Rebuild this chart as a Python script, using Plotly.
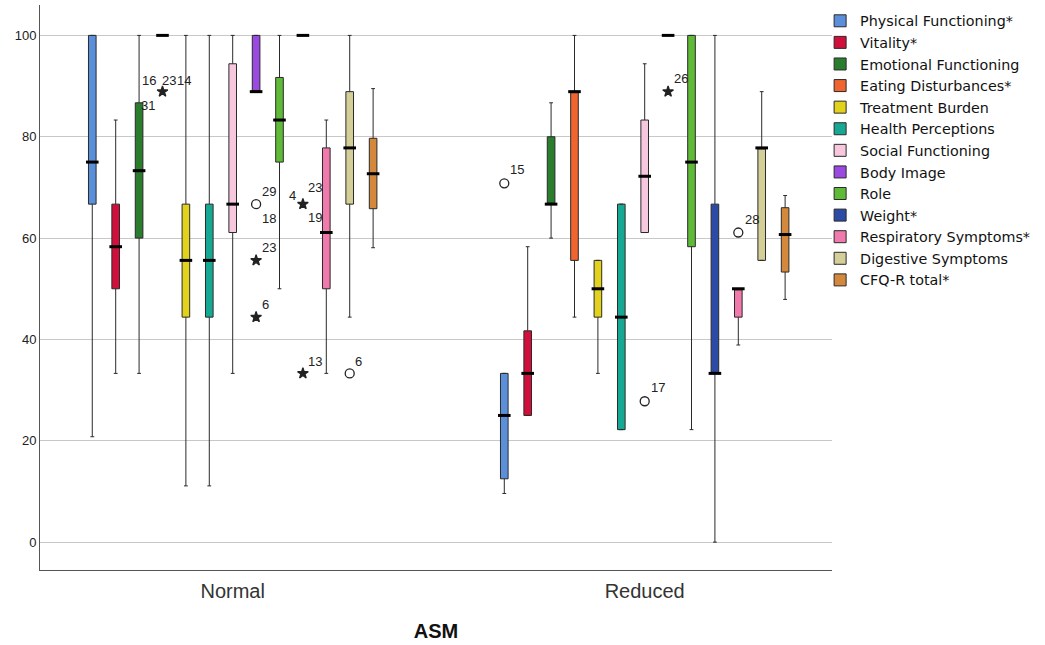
import plotly.graph_objects as go

# ---- data -------------------------------------------------------------
GROUPS = ["Normal", "Reduced"]

SCALES = [
    "Physical Functioning*", "Vitality*", "Emotional Functioning",
    "Eating Disturbances*", "Treatment Burden", "Health Perceptions",
    "Social Functioning", "Body Image", "Role", "Weight*",
    "Respiratory Symptoms*", "Digestive Symptoms", "CFQ-R total*",
]

# box statistics per scale: [Normal, Reduced]
LOWER = [[20.8, 9.6], [33.3, 25.0], [33.3, 60.0], [100, 44.4], [11.1, 33.3],
         [11.1, 22.2], [33.3, 61.1], [88.9, 100], [50.0, 22.2], [100, 0.0],
         [33.3, 38.9], [44.4, 55.6], [58.1, 47.9]]
Q1 = [[66.7, 12.5], [50.0, 25.0], [60.0, 66.7], [100, 55.6], [44.4, 44.4],
      [44.4, 22.2], [61.1, 61.1], [88.9, 100], [75.0, 58.3], [100, 33.3],
      [50.0, 44.4], [66.7, 55.6], [65.8, 53.3]]
MEDIAN = [[75.0, 25.0], [58.3, 33.3], [73.3, 66.7], [100, 88.9], [55.6, 50.0],
          [55.6, 44.4], [66.7, 72.2], [88.9, 100], [83.3, 75.0], [100, 33.3],
          [61.1, 50.0], [77.8, 77.8], [72.7, 60.7]]
Q3 = [[100, 33.3], [66.7, 41.7], [86.7, 80.0], [100, 88.9], [66.7, 55.6],
      [66.7, 66.7], [94.4, 83.3], [100, 100], [91.7, 100], [100, 66.7],
      [77.8, 50.0], [88.9, 77.8], [79.7, 66.0]]
UPPER = [[100, 33.3], [83.3, 58.3], [100, 86.7], [100, 100], [100, 55.6],
         [100, 66.7], [100, 94.4], [100, 100], [100, 100], [100, 100],
         [83.3, 50.0], [100, 88.9], [89.5, 68.4]]

# outlying cases (circle = outlier, star = extreme) with their case numbers
OUT_GROUP = [0, 0, 0, 0, 0, 0, 0, 1, 1, 1, 1]
OUT_SCALE = [3, 7, 7, 7, 9, 9, 11, 0, 6, 7, 10]
OUT_VALUE = [88.9, 66.7, 55.6, 44.4, 66.7, 33.3, 33.3, 70.8, 27.8, 88.9, 61.1]
OUT_KIND = ["extreme", "outlier", "extreme", "extreme", "extreme", "extreme",
            "outlier", "outlier", "outlier", "extreme", "outlier"]
OUT_CASES = [["16", "23", "14", "31"], ["29", "18"], ["23"], ["6"],
             ["4", "23", "19"], ["13"], ["6"], ["15"], ["17"], ["26"], ["28"]]

# ---- style ------------------------------------------------------------
COLORS = ["#5b8fd9", "#d0103a", "#2b7d2e", "#f0642d", "#e2d21c", "#17a894",
          "#f7c7de", "#9a4ae0", "#5fba37", "#2d4ba6", "#f07aab", "#d4cf98",
          "#d4883c"]

# pixel offsets of case-number labels around their marker
LABEL_OFFSETS = [[(-13, 11), (7, 11), (22, 11), (-14, -14)], [(13, 13), (13, -14)],
                 [(13, 13)], [(9, 13)], [(-10, 9), (12, 17), (12, -13)],
                 [(12, 12)], [(9, 12)], [(13, 14)], [(13, 14)], [(13, 13)],
                 [(14, 13)]]

SLOT = 0.0568       # horizontal distance between neighbouring boxes
BOX_W = 0.0185      # box width in axis units
CENTER = (len(SCALES) - 1) / 2
FONT = "Liberation Sans, Arial, sans-serif"


def xpos(g, s):
    return g + (s - CENTER) * SLOT


fig = go.Figure()

for s, name in enumerate(SCALES):
    xs = [xpos(g, s) for g in range(len(GROUPS))]
    fig.add_trace(go.Box(
        name=name, x=xs,
        lowerfence=LOWER[s], q1=Q1[s], median=MEDIAN[s], q3=Q3[s],
        upperfence=UPPER[s],
        width=BOX_W, whiskerwidth=0.5,
        fillcolor=COLORS[s], line=dict(color="#2a2a2a", width=1),
        boxpoints=False, hoverinfo="skip",
    ))

# thick median bars
med_x, med_y = [], []
for s in range(len(SCALES)):
    for g in range(len(GROUPS)):
        med_x.append(xpos(g, s))
        med_y.append(MEDIAN[s][g])
fig.add_trace(go.Scatter(
    x=med_x, y=med_y, mode="markers", showlegend=False, hoverinfo="skip",
    marker=dict(symbol="line-ew", size=9, color="black",
                line=dict(color="black", width=3)),
))

# outliers and extremes
for kind, symbol, size in [("outlier", "circle-open", 9), ("extreme", "star", 8)]:
    idx = [i for i, k in enumerate(OUT_KIND) if k == kind]
    fig.add_trace(go.Scatter(
        x=[xpos(OUT_GROUP[i], OUT_SCALE[i]) for i in idx],
        y=[OUT_VALUE[i] for i in idx],
        mode="markers", showlegend=False, hoverinfo="skip",
        marker=dict(symbol=symbol, size=size, color="#222",
                    line=dict(color="#222", width=1.3)),
    ))

for i, cases in enumerate(OUT_CASES):
    for case, (dx, dy) in zip(cases, LABEL_OFFSETS[i]):
        fig.add_annotation(
            x=xpos(OUT_GROUP[i], OUT_SCALE[i]), y=OUT_VALUE[i], text=case,
            showarrow=False, xshift=dx, yshift=dy,
            font=dict(family=FONT, size=13, color="#222"),
        )

fig.update_layout(
    width=1045, height=645,
    margin=dict(l=40, r=213, t=5, b=75),
    plot_bgcolor="white", paper_bgcolor="white",
    font=dict(family=FONT, color="#222"),
    showlegend=True,
    legend=dict(x=0.985, xanchor="left", y=1.0, yanchor="top",
                font=dict(family="DejaVu Sans, sans-serif", size=14.3, color="#111"),
                bgcolor="rgba(0,0,0,0)", tracegroupgap=0),
    xaxis=dict(
        range=[-0.4677, 1.4546], tickvals=list(range(len(GROUPS))),
        ticktext=GROUPS, showgrid=False, zeroline=False,
        showline=True, linecolor="#555", linewidth=1, ticks="",
        ticklabelstandoff=3,
        tickfont=dict(family=FONT, size=20, color="#333"),
        title=dict(text="<b>ASM</b>", font=dict(family=FONT, size=20, color="#111"),
                   standoff=22),
    ),
    yaxis=dict(
        range=[-5.5, 106], tickvals=[0, 20, 40, 60, 80, 100],
        showgrid=True, gridcolor="#c8c8c8", gridwidth=1, zeroline=False,
        showline=True, linecolor="#555", linewidth=1, ticks="",
        tickfont=dict(family=FONT, size=13, color="#222"),
    ),
)

fig.write_html("out.html")
